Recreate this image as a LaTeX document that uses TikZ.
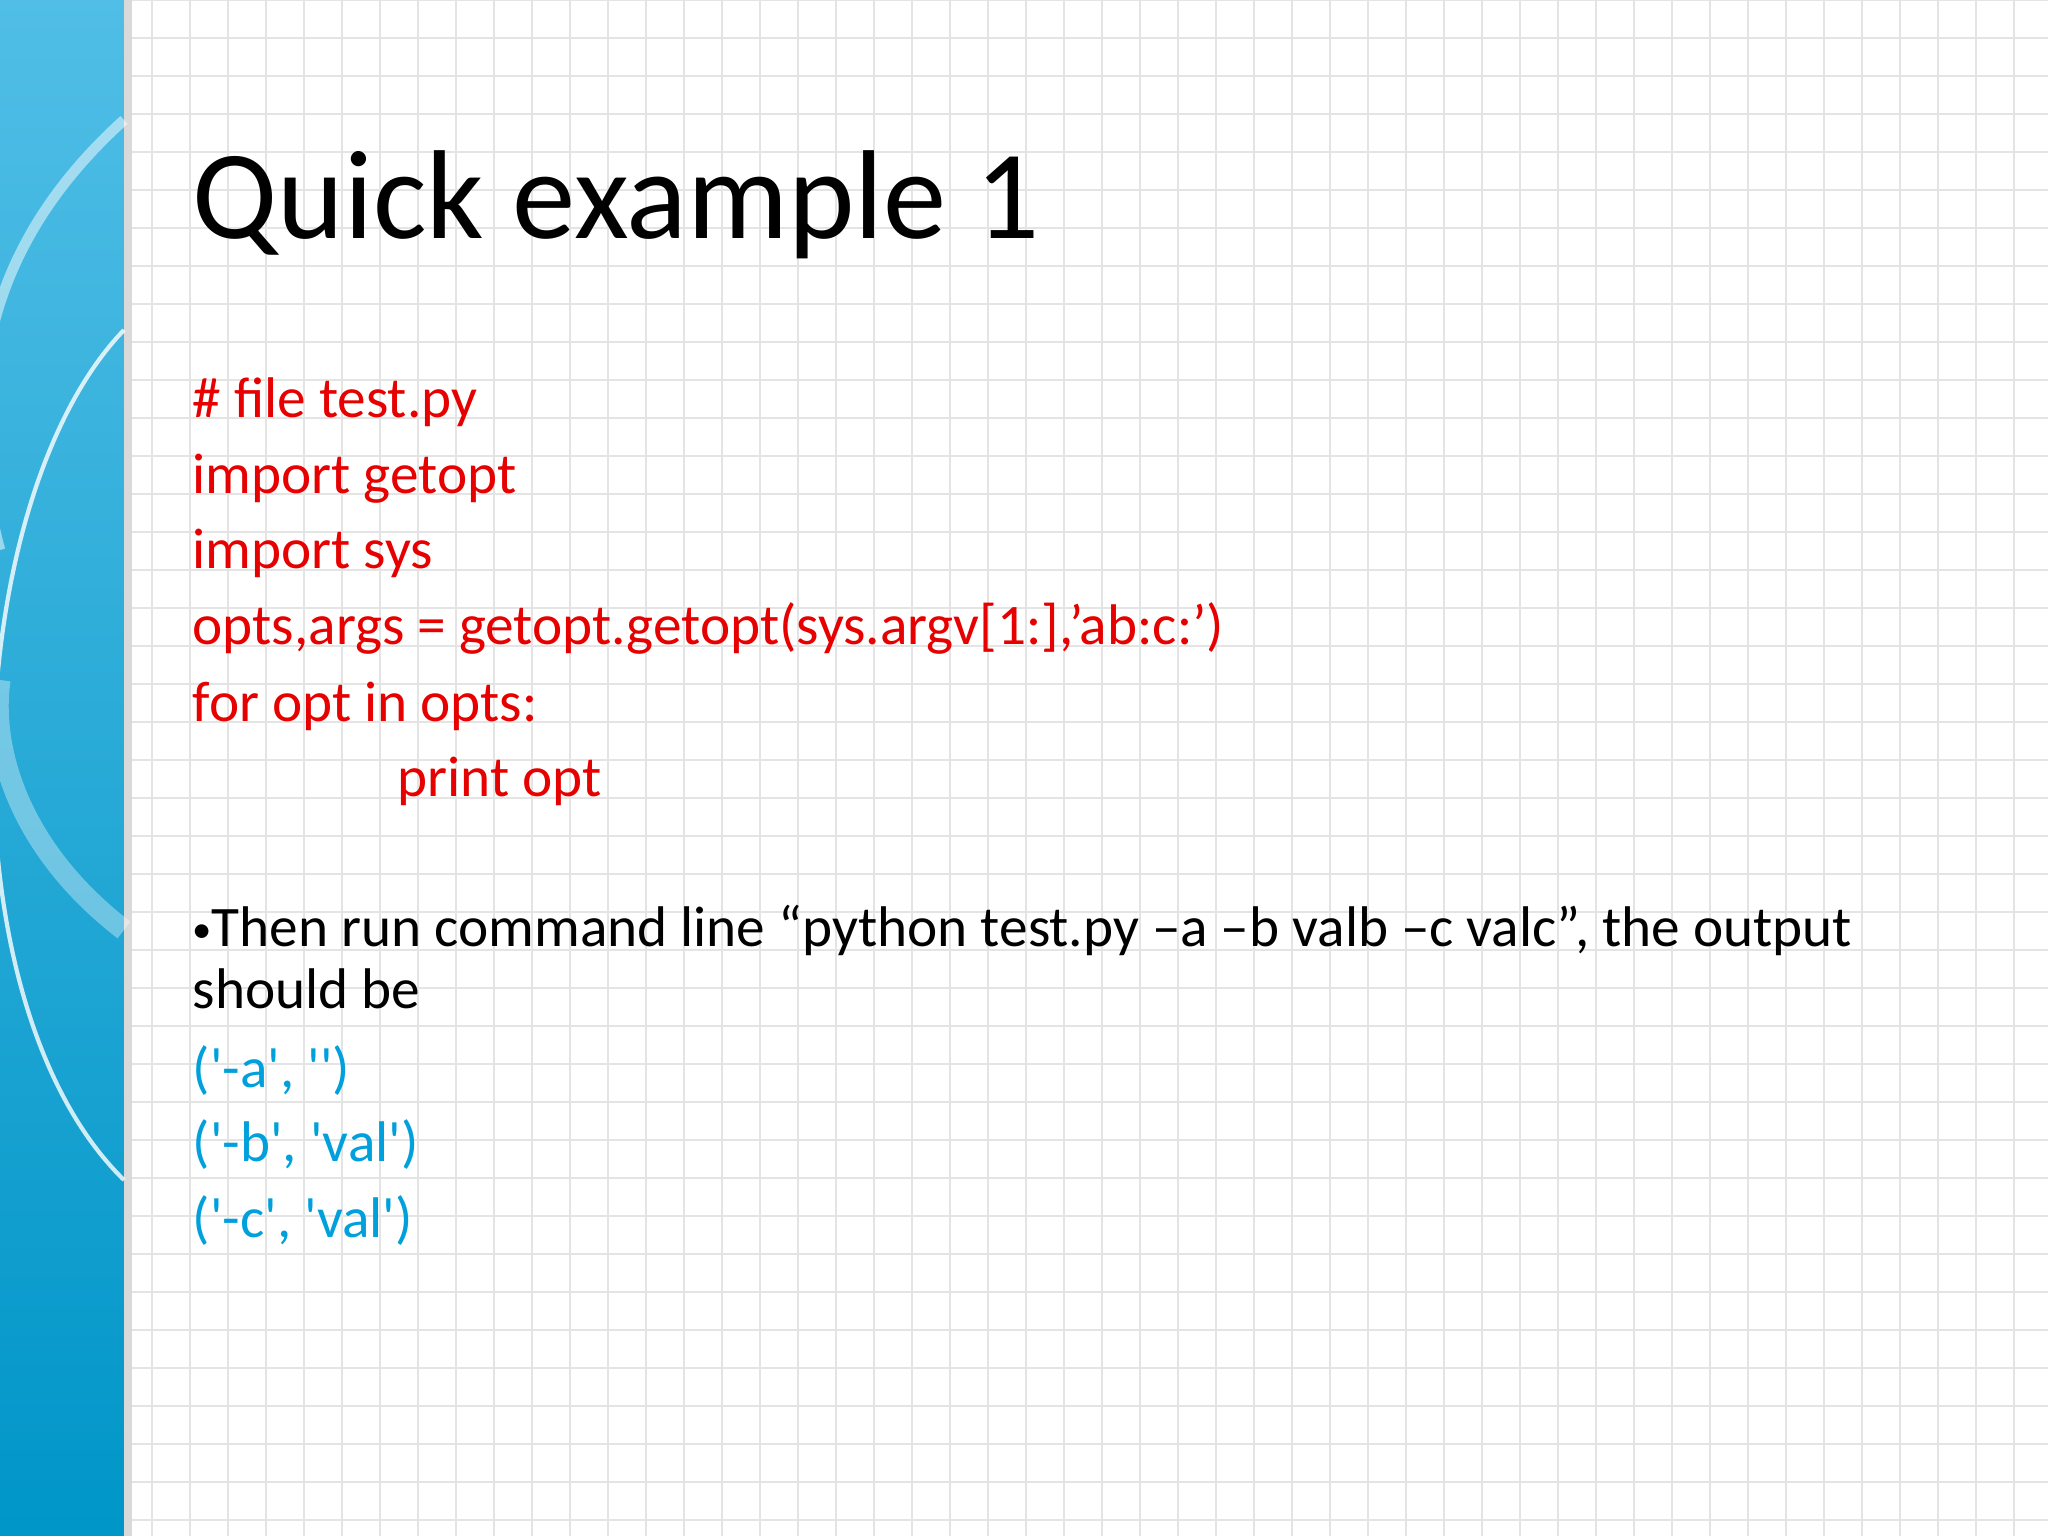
\documentclass[tikz,border=0pt]{standalone}
\usepackage{fontspec}
\setmainfont{Carlito}
\newfontfamily\outfont{Carlito}[Ligatures=NoCommon]
\definecolor{codered}{RGB}{230,0,0}
\definecolor{outblue}{RGB}{0,160,220}
\definecolor{gridc}{RGB}{228,228,228}
\definecolor{stripA}{RGB}{80,190,230}
\definecolor{stripB}{RGB}{0,150,200}
\begin{document}
\begin{tikzpicture}[x=1cm,y=1cm,
  txt/.style={anchor=base west,inner sep=0pt,font=\fontsize{16.3pt}{19pt}\selectfont},
  code/.style={txt,text=codered},
  outp/.style={anchor=base west,inner sep=0pt,font=\outfont\fontsize{16.3pt}{19pt}\selectfont,text=outblue}]
\useasboundingbox (0,0) rectangle (20.48,-15.36);
\fill[white] (0,0) rectangle (20.48,-15.36);
\draw[gridc,line width=0.6pt,step=0.38] (1.24,0) grid (20.48,-15.36);
\shade[top color=stripA,bottom color=stripB] (0,0) rectangle (1.24,-15.36);
\fill[black!15] (1.24,0) rectangle (1.32,-15.36);
\draw[white,opacity=0.8,line width=1.2pt] (1.24,-11.8) .. controls (-0.6,-10) and (-0.4,-5) .. (1.24,-3.3);
\draw[white,opacity=0.5,line width=3pt] (1.24,-1.2) .. controls (-0.2,-2.5) and (-0.4,-4) .. (0,-5.5);
\draw[white,opacity=0.35,line width=6pt] (1.24,-9.3) .. controls (0.2,-8.5) and (-0.1,-7.5) .. (0,-6.8);
\node[anchor=base west,inner sep=0pt,font=\fontsize{36pt}{44pt}\selectfont] (title) at (1.92,-2.39) {Quick example 1};
\node[code] (l1) at (1.92,-4.18) {\# f{}ile test.py};
\node[code] (l2) at (1.92,-4.94) {import getopt};
\node[code] (l3) at (1.92,-5.69) {import sys};
\node[code] (l4) at (1.92,-6.45) {opts,args = getopt.getopt(sys.argv[1:],’ab:c:’)};
\node[code] (l5) at (1.92,-7.21) {for opt in opts:};
\node[code] (l6) at (3.97,-7.97) {print opt};
\node[txt] (b1) at (1.92,-9.47) {{\fontsize{11pt}{12pt}\selectfont\raisebox{0.25ex}{•}}Then run command line “python test.py –a –b valb –c valc”, the output};
\node[txt] (b2) at (1.92,-10.08) {should be};
\node[outp] (o1) at (1.92,-10.87) {('-a', '')};
\node[outp] (o2) at (1.92,-11.61) {('-b', 'val')};
\node[outp] (o3) at (1.92,-12.37) {('-c', 'val')};
\end{tikzpicture}
\end{document}
